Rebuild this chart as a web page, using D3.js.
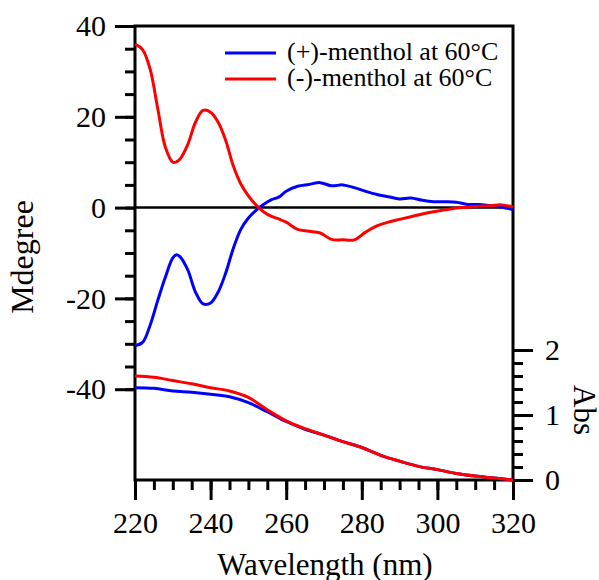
<!DOCTYPE html>
<html lang="en">
<head>
    <meta charset="UTF-8">
    <script src="https://cdn.jsdelivr.net/npm/d3@7"></script>
    <title>CD menthol</title>
    <style>
        body { margin: 0; background: #fff; }
    </style>
</head>
<body>
<script>
// CD spectra (Mdegree) on a shared wavelength grid
let cdWl = [220, 222, 224, 226, 228, 230, 231, 232, 234, 236, 238, 240, 242, 244, 246, 248, 250, 252, 254, 256, 258, 260,
    263, 266, 269, 272, 275, 278, 281, 284, 287, 290, 293, 296, 299, 302, 305, 308, 311, 314, 317, 320]
let cdPlus = [-30.4, -29.7, -25.9, -20.5, -15.4, -11.1, -10.4, -10.9, -13.8, -18.6, -21.2, -21.0, -18.6, -14.4, -9.0, -4.8, -2.3, -0.6, 0.7, 1.7, 2.3, 3.6,
    4.7, 5.1, 5.5, 4.8, 5.0, 4.4, 3.6, 2.9, 2.4, 1.9, 2.1, 1.6, 1.3, 1.3, 1.2, 0.7, 0.7, 0.4, 0.1, -0.4]
let cdMinus = [36.0, 34.8, 30.5, 21.9, 13.4, 10.0, 10.1, 10.8, 14.0, 18.8, 21.4, 21.0, 18.8, 14.8, 9.2, 5.2, 2.6, 0.6, -0.9, -1.9, -2.5, -3.2,
    -4.8, -5.2, -5.6, -7.0, -7.1, -7.1, -5.4, -4.0, -3.2, -2.6, -2.0, -1.4, -0.9, -0.5, -0.1, 0.1, 0.3, 0.4, 0.6, 0.1]

// absorbance
let absWl = [220, 225, 230, 235, 240, 245, 250, 255, 260, 265, 270, 275, 280, 285, 290, 295, 300, 305, 310, 315, 320]
let absPlus = [1.42, 1.41, 1.37, 1.35, 1.32, 1.28, 1.19, 1.05, 0.90, 0.78, 0.69, 0.59, 0.50, 0.38, 0.29, 0.21, 0.16, 0.10, 0.06, 0.03, 0.0]
let absMinus = [1.60, 1.58, 1.53, 1.48, 1.42, 1.37, 1.27, 1.08, 0.91, 0.79, 0.69, 0.59, 0.50, 0.38, 0.29, 0.21, 0.16, 0.10, 0.06, 0.03, 0.0]

let xTicks = [220, 240, 260, 280, 300, 320]
let yTicks = [-40, -20, 0, 20, 40]
let absTicks = [0, 1, 2]
let seriesNames = ["(+)-menthol at 60°C", "(-)-menthol at 60°C"]
let seriesColors = ["#0000ff", "#ff0000"]

let width = 599
let height = 580
let plotL = 135, plotR = 513, plotT = 26, plotB = 480
let serif = "'Liberation Serif', 'Times New Roman', Times, serif"

let svg = d3.select("body").append("svg")
    .attr("width", width)
    .attr("height", height)
    .attr("font-family", serif)

let x = d3.scaleLinear().domain([220, 320]).range([plotL, plotR])
let y = d3.scaleLinear().domain([-60, 40]).range([plotB, plotT])
let yAbs = d3.scaleLinear().domain([0, 2]).range([plotB, 350])

// frame
svg.append("rect")
    .attr("x", plotL).attr("y", plotT)
    .attr("width", plotR - plotL).attr("height", plotB - plotT)
    .attr("fill", "none").attr("stroke", "#000").attr("stroke-width", 3)

// zero line
svg.append("line")
    .attr("x1", plotL).attr("x2", plotR)
    .attr("y1", y(0)).attr("y2", y(0))
    .attr("stroke", "#000").attr("stroke-width", 2.5)

let fmt = d => String(d)  // plain hyphen minus like the original

function styleAxis(g) {
    g.attr("font-family", serif).attr("font-size", 30)
    g.select(".domain").remove()
    g.selectAll("line").attr("stroke", "#000").attr("stroke-width", 3)
    g.selectAll("text").attr("fill", "#000")
}

// bottom axis
svg.append("g")
    .attr("transform", `translate(0,${plotB})`)
    .call(d3.axisBottom(x).tickValues(d3.range(220, 321, 5)).tickFormat("").tickSize(10))
    .call(styleAxis)
svg.append("g")
    .attr("transform", `translate(0,${plotB})`)
    .call(d3.axisBottom(x).tickValues(xTicks).tickFormat(fmt).tickSize(20).tickPadding(12))
    .call(styleAxis)

// left axis
svg.append("g")
    .attr("transform", `translate(${plotL},0)`)
    .call(d3.axisLeft(y).tickValues(d3.range(-40, 41, 5)).tickFormat("").tickSize(10))
    .call(styleAxis)
svg.append("g")
    .attr("transform", `translate(${plotL},0)`)
    .call(d3.axisLeft(y).tickValues(yTicks).tickFormat(fmt).tickSize(20).tickPadding(9))
    .call(styleAxis)

// right axis (Abs)
svg.append("g")
    .attr("transform", `translate(${plotR},0)`)
    .call(d3.axisRight(yAbs).tickValues(d3.range(0, 2.01, 0.2)).tickFormat("").tickSize(10))
    .call(styleAxis)
svg.append("g")
    .attr("transform", `translate(${plotR},0)`)
    .call(d3.axisRight(yAbs).tickValues(absTicks).tickFormat(fmt).tickSize(20).tickPadding(12))
    .call(styleAxis)

// titles
svg.append("text")
    .attr("x", (plotL + plotR) / 2 + 1).attr("y", 575)
    .attr("text-anchor", "middle").attr("font-size", 31)
    .text("Wavelength (nm)")
svg.append("text")
    .attr("transform", "translate(33,257) rotate(-90)")
    .attr("text-anchor", "middle").attr("font-size", 32)
    .text("Mdegree")
svg.append("text")
    .attr("transform", "translate(574,410) rotate(90)")
    .attr("text-anchor", "middle").attr("font-size", 31)
    .text("Abs")

// curves
let cdLine = (vals) => d3.line()
    .x((d, i) => x(cdWl[i]))
    .y(d => y(d))
    .curve(d3.curveCatmullRom.alpha(0.5))(vals)
let absLine = (vals) => d3.line()
    .x((d, i) => x(absWl[i]))
    .y(d => yAbs(d))
    .curve(d3.curveCatmullRom.alpha(0.5))(vals)

let curves = [
    [absLine(absPlus), seriesColors[0]],
    [absLine(absMinus), seriesColors[1]],
    [cdLine(cdPlus), seriesColors[0]],
    [cdLine(cdMinus), seriesColors[1]]
]
curves.forEach(c => {
    svg.append("path")
        .attr("d", c[0])
        .attr("fill", "none")
        .attr("stroke", c[1])
        .attr("stroke-width", 3)
        .attr("stroke-linejoin", "round")
})

// legend
seriesNames.forEach((name, i) => {
    let ly = 53 + i * 26
    svg.append("line")
        .attr("x1", 225).attr("x2", 276)
        .attr("y1", ly).attr("y2", ly)
        .attr("stroke", seriesColors[i]).attr("stroke-width", 3)
    svg.append("text")
        .attr("x", 287).attr("y", ly + 7)
        .attr("font-size", 26)
        .text(name)
})
</script>
</body>
</html>
